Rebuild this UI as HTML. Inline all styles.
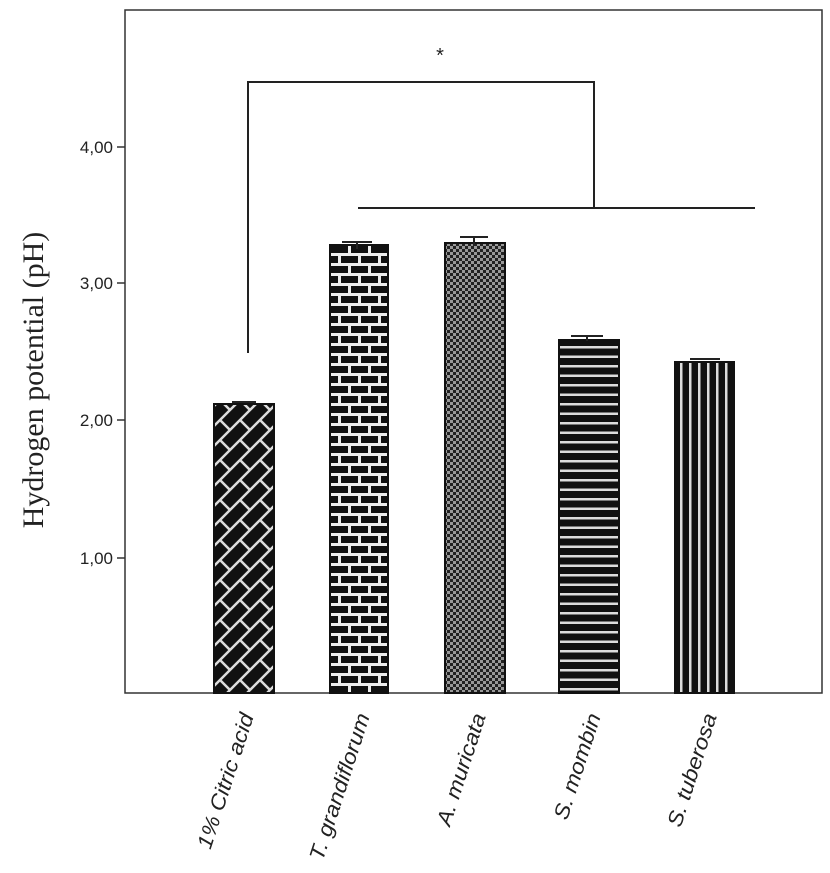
<!DOCTYPE html>
<html><head><style>body{margin:0;background:#fff}svg{display:block}</style></head><body>
<svg width="830" height="873" xmlns="http://www.w3.org/2000/svg" font-family="Liberation Sans, sans-serif">
<defs>
<pattern id="p1" width="20" height="20" patternUnits="userSpaceOnUse"><rect width="20" height="20" fill="#111"/><path d="M0 20L20 0M-5 5L5 -5M15 25L25 15M0 0L10 10" stroke="#ddd" stroke-width="2.5"/></pattern>
<pattern id="p2" width="20" height="20" patternUnits="userSpaceOnUse" x="330" y="245"><rect width="20" height="20" fill="#eee"/><rect x="1" y="1" width="17" height="7" fill="#111"/><rect x="11" y="11" width="17" height="7" fill="#111"/><rect x="-9" y="11" width="17" height="7" fill="#111"/></pattern>
<pattern id="p3" width="6" height="6" patternUnits="userSpaceOnUse"><rect width="6" height="6" fill="#222"/><rect x="0" y="0" width="3" height="3" fill="#999"/><rect x="3" y="3" width="3" height="3" fill="#999"/></pattern>
<pattern id="p4" width="10" height="9.5" patternUnits="userSpaceOnUse" y="340"><rect width="10" height="9.5" fill="#111"/><rect y="6" width="10" height="2.5" fill="#ddd"/></pattern>
<pattern id="p5" width="9" height="10" patternUnits="userSpaceOnUse" x="675"><rect width="9" height="10" fill="#111"/><rect x="5" width="2.5" height="10" fill="#ddd"/></pattern>
</defs>
<rect x="125" y="10" width="697" height="683" fill="none" stroke="#333" stroke-width="1.5"/>
<g stroke="#333" stroke-width="1.5">
<line x1="117" y1="147" x2="125" y2="147"/><line x1="117" y1="283" x2="125" y2="283"/><line x1="117" y1="420" x2="125" y2="420"/><line x1="117" y1="558" x2="125" y2="558"/>
</g>
<g font-size="17" text-anchor="end" fill="#222">
<text x="113" y="153">4,00</text><text x="113" y="289">3,00</text><text x="113" y="426">2,00</text><text x="113" y="564">1,00</text>
</g>
<text transform="translate(43,380) rotate(-90)" text-anchor="middle" font-family="Liberation Serif, serif" font-size="30" fill="#222">Hydrogen potential (pH)</text>
<g stroke="#111" stroke-width="2">
<rect x="214" y="404" width="60" height="289" fill="url(#p1)"/>
<rect x="330" y="245" width="58" height="448" fill="url(#p2)"/>
<rect x="445" y="243" width="60" height="450" fill="url(#p3)"/>
<rect x="559" y="340" width="60" height="353" fill="url(#p4)"/>
<rect x="675" y="362" width="59" height="331" fill="url(#p5)"/>
</g>
<g stroke="#222" stroke-width="2" fill="none">
<path d="M232 402H256M342 242H372M357 242V249M460 237H488M474 237V246M571 336H603M587 336V341M690 359H720"/>
<path d="M248 353V82H594V208M358 208H755"/>
</g>
<text x="440" y="62" font-size="20" text-anchor="middle" fill="#222">*</text>
<g font-size="21" font-style="italic" fill="#222" text-anchor="end">
<text transform="translate(254,716) rotate(-72) scale(1.1,1)">1% Citric acid</text>
<text transform="translate(370,716) rotate(-72) scale(1.1,1)">T. grandiflorum</text>
<text transform="translate(486,716) rotate(-72) scale(1.1,1)">A. muricata</text>
<text transform="translate(601,716) rotate(-72) scale(1.1,1)">S. mombin</text>
<text transform="translate(717,716) rotate(-72) scale(1.1,1)">S. tuberosa</text>
</g>
</svg>
</body></html>
